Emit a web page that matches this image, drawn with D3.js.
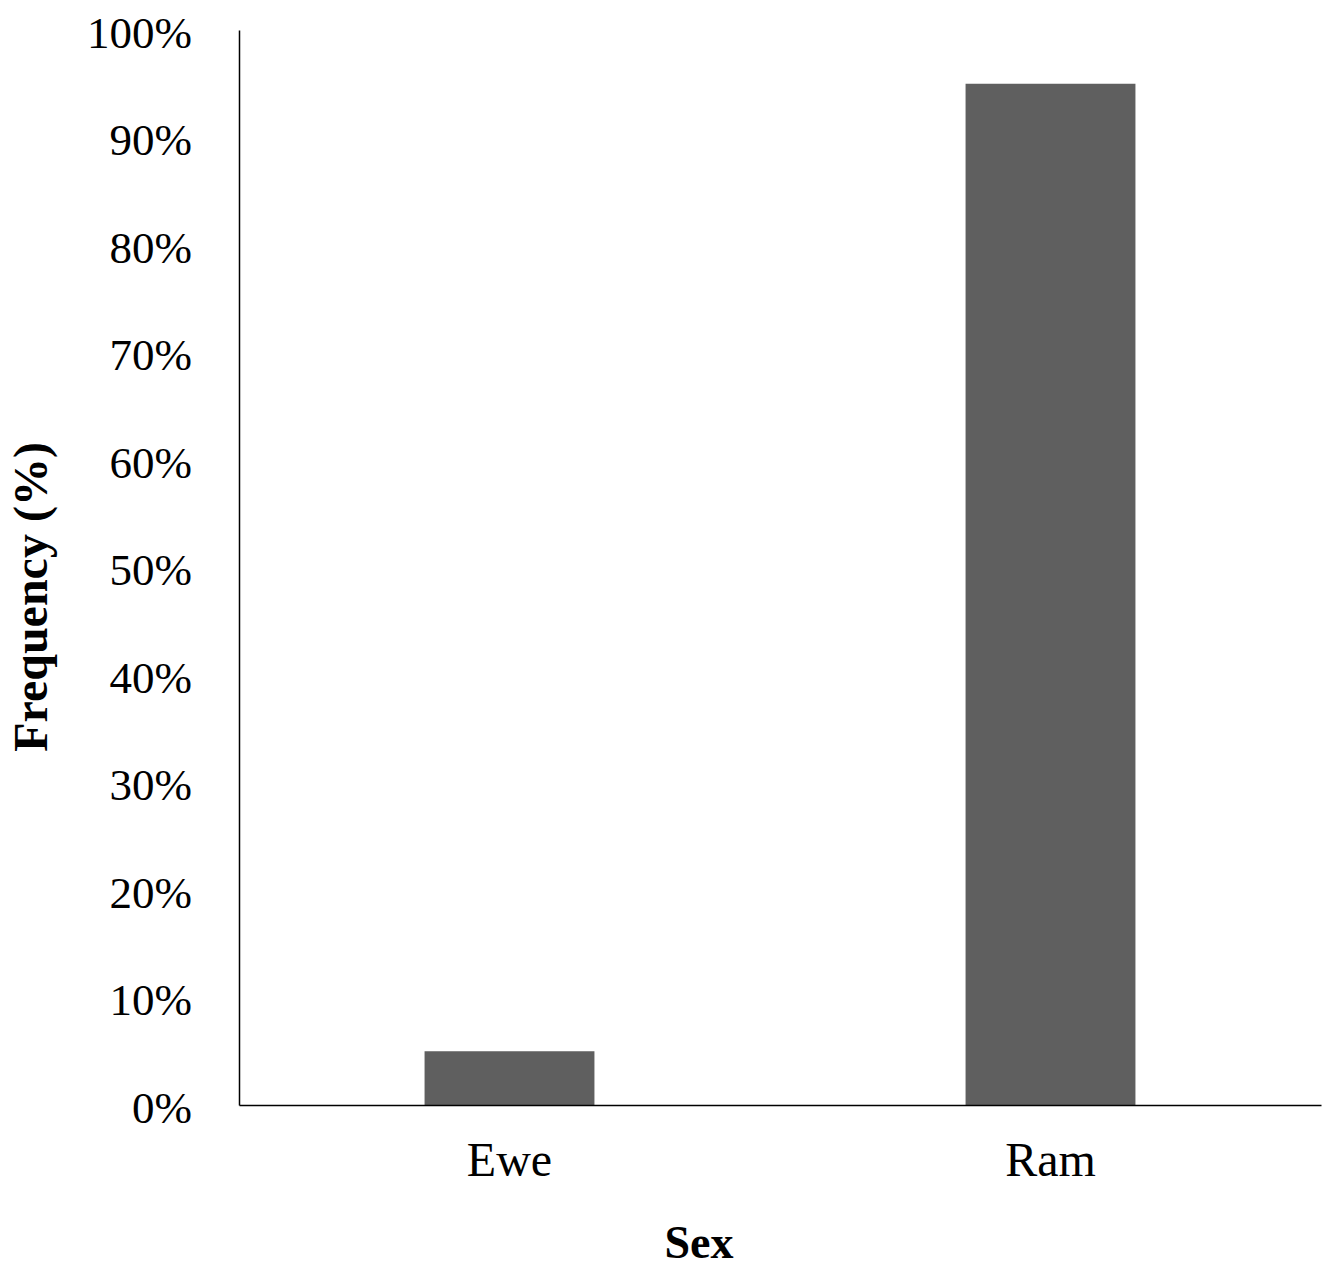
<!DOCTYPE html>
<html><head><meta charset="utf-8">
<script src="https://cdn.jsdelivr.net/npm/d3@7"></script>
<style>body{margin:0;background:#fff}</style>
</head><body>
<script>
const categories = ["Ewe", "Ram"];
const values = [0.05, 0.95];
const yTicks = [0, 0.1, 0.2, 0.3, 0.4, 0.5, 0.6, 0.7, 0.8, 0.9, 1.0];
const xTitle = "Sex";
const yTitle = "Frequency (%)";

const W = 1331, H = 1267;
const m = {left: 239, right: 10, top: 30, bottom: 162};
const svg = d3.select("body").append("svg").attr("width", W).attr("height", H);
const x = d3.scaleBand().domain(categories).range([m.left, W - m.right]).paddingInner(0.686).paddingOuter(0.343);
const y = d3.scaleLinear().domain([0, 1]).range([H - m.bottom, m.top]);
const font = "'Liberation Serif', 'Times New Roman', serif";

svg.selectAll("rect.bar").data(values).join("rect").attr("class", "bar")
  .attr("x", (d, i) => x(categories[i])).attr("width", x.bandwidth())
  .attr("y", d => y(d)).attr("height", d => y(0) - y(d)).attr("fill", "#5f5f5f");

const ya = svg.append("g").attr("transform", `translate(${m.left},0)`)
  .call(d3.axisLeft(y).tickValues(yTicks).tickFormat(d3.format(".0%")).tickSize(0).tickPadding(47));
ya.select(".domain").attr("stroke", "#000").attr("stroke-width", 1.5);
ya.selectAll("text").attr("font-family", font).attr("font-size", 45).attr("fill", "#000").attr("dy", "0.38em");

const xa = svg.append("g").attr("transform", `translate(0,${y(0)})`)
  .call(d3.axisBottom(x).tickSize(0).tickPadding(37));
xa.select(".domain").attr("stroke", "#000").attr("stroke-width", 1.5);
xa.selectAll("text").attr("font-family", font).attr("font-size", 48).attr("fill", "#000");

svg.append("text").attr("x", 699).attr("y", 1258).attr("text-anchor", "middle")
  .attr("font-family", font).attr("font-weight", "bold").attr("font-size", 46).text(xTitle);
svg.append("text").attr("transform", "translate(47,597) rotate(-90)").attr("text-anchor", "middle")
  .attr("font-family", font).attr("font-weight", "bold").attr("font-size", 48).text(yTitle);
</script>
</body></html>
